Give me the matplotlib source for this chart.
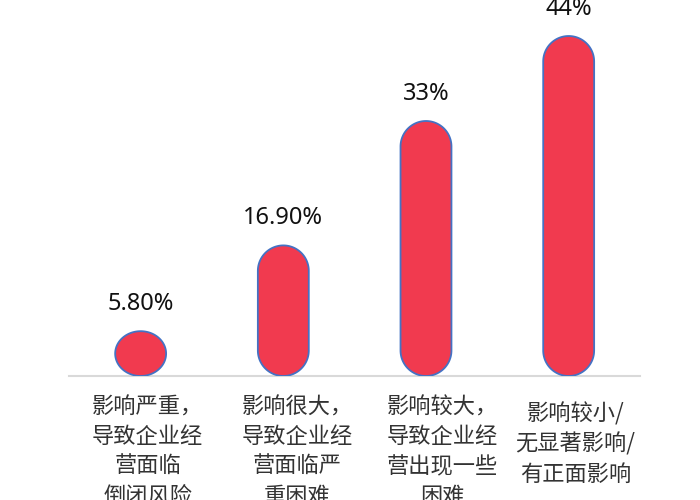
import numpy as np
import matplotlib.pyplot as plt
from matplotlib.patches import Polygon

plt.rcParams['font.family'] = ['Noto Sans CJK SC', 'DejaVu Sans']

# 数据
categories = ['影响严重，\n导致企业经\n营面临\n倒闭风险',
              '影响很大，\n导致企业经\n营面临严\n重困难',
              '影响较大，\n导致企业经\n营出现一些\n困难',
              '影响较小/\n无显著影响/\n有正面影响']
values = [5.8, 16.9, 33, 44]
value_labels = ['5.80%', '16.90%', '33%', '44%']

fig = plt.figure(figsize=(7, 5), dpi=100)
ax = fig.add_axes([0.099, 0.248, 0.8153, 0.752])
ax.set_xlim(0.5, 4.5)
ax.set_ylim(0, 48.66)

# 让圆头是真正的半圆：算出 y/x 的像素比例
W, H = fig.get_size_inches() * fig.dpi
pos = ax.get_position()
asp = (48.66 / (pos.height * H)) / (4.0 / (pos.width * W))

bar_w = 0.357
t = np.linspace(0, np.pi, 60)
for i, v in enumerate(values):
    xc = i + 1
    rx = bar_w / 2
    ry = min(rx * asp, v / 2)
    top = np.column_stack([xc + rx * np.cos(t), v - ry + ry * np.sin(t)])
    bot = np.column_stack([xc - rx * np.cos(t), ry - ry * np.sin(t)])
    pts = np.vstack([top, bot])
    ax.add_patch(Polygon(pts, closed=True, facecolor='#F13A4F',
                         edgecolor='#4472C4', linewidth=1.3, zorder=3))
    ax.annotate(value_labels[i], xy=(xc, v), xytext=(0, 19.5),
                textcoords='offset points', ha='center', va='center',
                fontsize=17, color='#111111', family=['Noto Sans', 'DejaVu Sans'])

# 类别标签（稍微往右偏一点，跟原图一样）
label_dx = [5, 10, 11.5, 5]
label_dy = [-14, -14, -14, -19]
for i, lab in enumerate(categories):
    ax.annotate(lab, xy=(i + 1, 0), xycoords='data',
                xytext=(label_dx[i], label_dy[i]), textcoords='offset points',
                ha='center', va='top', multialignment='center',
                fontsize=16, color='#333333', linespacing=1.38,
                annotation_clip=False)

for s in ['top', 'left', 'right']:
    ax.spines[s].set_visible(False)
ax.spines['bottom'].set_color('#D9D9D9')
ax.spines['bottom'].set_linewidth(1.5)
ax.set_xticks([])
ax.set_yticks([])

fig.savefig('out.png', dpi=100)
